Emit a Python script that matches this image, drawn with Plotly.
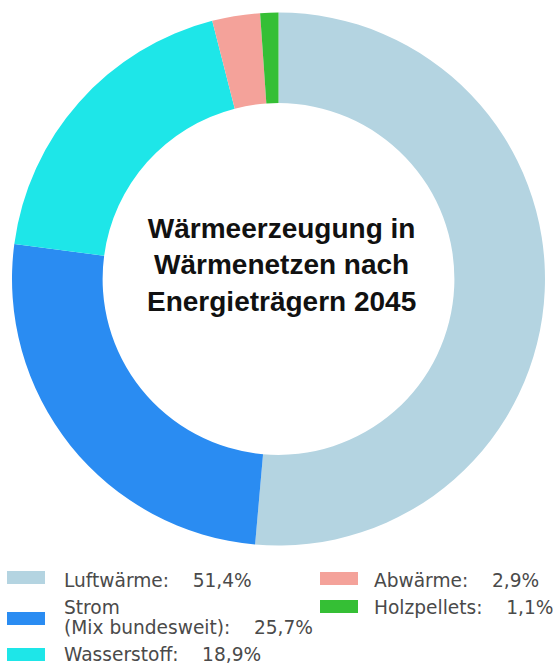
import plotly.graph_objects as go

# Energy sources for heat generation in district heating networks, 2045
labels = ["Luftwärme", "Strom<br>(Mix bundesweit)", "Wasserstoff", "Abwärme", "Holzpellets"]
values = [51.4, 25.7, 18.9, 2.9, 1.1]
colors = ["#b4d4e1", "#2a8cf2", "#1ee6e8", "#f4a29a", "#35bf35"]
title_lines = ["Wärmeerzeugung in", "Wärmenetzen nach", "Energieträgern 2045"]

W, H = 553, 666


def px(x):
    return x / W


def py(y):
    return 1 - y / H


fig = go.Figure(
    go.Pie(
        labels=labels,
        values=values,
        marker=dict(colors=colors, line=dict(width=0)),
        hole=0.66,
        sort=False,
        direction="clockwise",
        rotation=0,
        textinfo="none",
        showlegend=False,
        domain=dict(x=[px(12), px(545)], y=[py(546), py(12)]),
    )
)

# Centre title
fig.add_annotation(
    x=px(281), y=py(265), xref="paper", yref="paper",
    text="<br>".join(f"<b>{t}</b>" for t in title_lines),
    showarrow=False, xanchor="center", yanchor="middle",
    font=dict(family="Liberation Sans, Arial, sans-serif", size=28, color="#111111"),
)

# Custom two-column legend
legend_font = dict(family="DejaVu Sans, sans-serif", size=18.6, color="#4a4a4a")
gap = "\u00a0" * 4
# (swatch left x, swatch top y, text left x, text line centres)
slots = [
    (7, 571, 62, [580]),
    (7, 612, 62, [607, 627]),
    (7, 648, 62, [654]),
    (320, 572, 372, [580]),
    (320, 600, 372, [607]),
]
for lab, val, col, (sx, sy, tx, ys) in zip(labels, values, colors, slots):
    fig.add_shape(
        type="rect", xref="paper", yref="paper",
        x0=px(sx), x1=px(sx + 38), y0=py(sy), y1=py(sy + 13),
        fillcolor=col, line=dict(width=0),
    )
    lines = lab.split("<br>")
    val_txt = f"{val:.1f}".replace(".", ",") + "%"
    lines[-1] = f"{lines[-1]}:{gap}{val_txt}"
    for line, yc in zip(lines, ys):
        fig.add_annotation(
            x=px(tx), y=py(yc), xref="paper", yref="paper",
            text=line, showarrow=False, xanchor="left", yanchor="middle",
            font=legend_font,
        )

fig.update_layout(
    width=W, height=H,
    margin=dict(l=0, r=0, t=0, b=0),
    paper_bgcolor="white",
    plot_bgcolor="white",
)

fig.write_html("out.html")
